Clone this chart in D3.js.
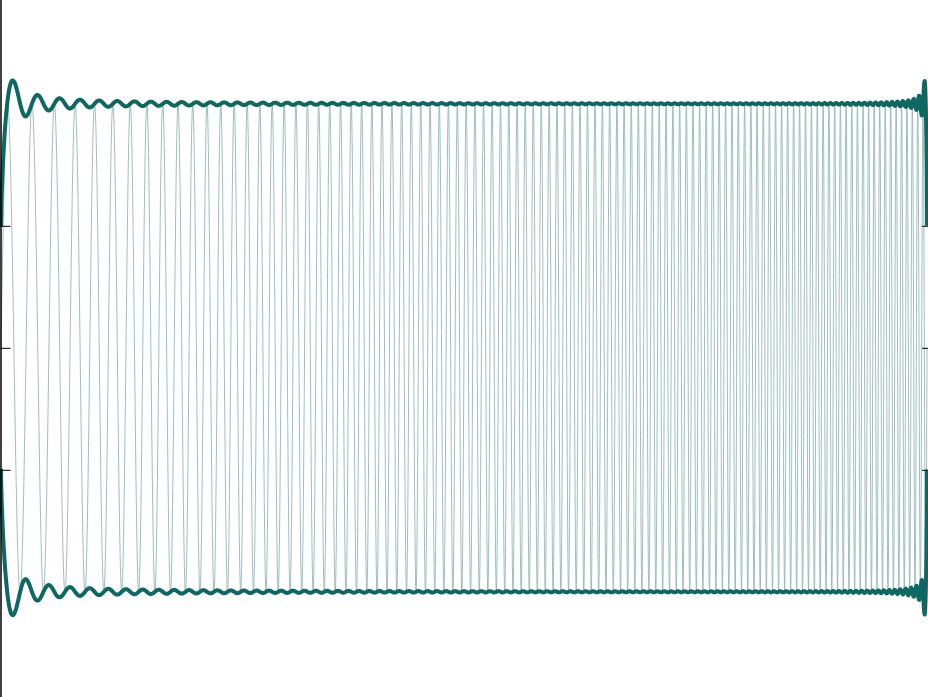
<!DOCTYPE html>
<html>
<head>
<meta charset="utf-8">
<script src="https://cdn.jsdelivr.net/npm/d3@7"></script>
<style>
  html, body { margin: 0; padding: 0; background: #fff; }
  svg { display: block; }
</style>
</head>
<body>
<svg id="chart" width="928" height="697"></svg>
<script>
// ---- data ----
const timeDomain = [0, 1];          // signal time span
const chirpFreqs = [35, 175];       // start / end frequency (cycles per span)
const sampleCounts = [4096];        // number of samples in the signal
const yTicks = [-0.5, 0, 0.5];      // axis tick values
const yDomain = [-1.5, 1.5];

// ---- sampled chirp (sine start) ----
const N = sampleCounts[0];
const t = d3.range(N).map(i => timeDomain[0] + (timeDomain[1] - timeDomain[0]) * i / (N - 1));
const f0 = chirpFreqs[0], f1 = chirpFreqs[1];
const sig = t.map(tt => Math.sin(2 * Math.PI * (f0 * tt + (f1 - f0) * tt * tt / 2)));

// radix-2 FFT (in place)
function fft(re, im, inverse) {
  const n = re.length;
  for (let i = 1, j = 0; i < n; i++) {
    let bit = n >> 1;
    for (; j & bit; bit >>= 1) j ^= bit;
    j ^= bit;
    if (i < j) { [re[i], re[j]] = [re[j], re[i]]; [im[i], im[j]] = [im[j], im[i]]; }
  }
  for (let len = 2; len <= n; len <<= 1) {
    const ang = 2 * Math.PI / len * (inverse ? 1 : -1);
    const wr = Math.cos(ang), wi = Math.sin(ang);
    const half = len / 2;
    for (let i = 0; i < n; i += len) {
      let cr = 1, ci = 0;
      for (let k = 0; k < half; k++) {
        const ar = re[i + k], ai = im[i + k];
        const br = re[i + k + half] * cr - im[i + k + half] * ci;
        const bi = re[i + k + half] * ci + im[i + k + half] * cr;
        re[i + k] = ar + br; im[i + k] = ai + bi;
        re[i + k + half] = ar - br; im[i + k + half] = ai - bi;
        const ncr = cr * wr - ci * wi; ci = cr * wi + ci * wr; cr = ncr;
      }
    }
  }
  if (inverse) for (let i = 0; i < n; i++) { re[i] /= n; im[i] /= n; }
}

// amplitude envelope from the analytic signal (zero-padded Hilbert transform)
function envelope(x) {
  const n = x.length * 2;
  const re = new Float64Array(n), im = new Float64Array(n);
  x.forEach((v, i) => { re[i] = v; });
  fft(re, im, false);
  for (let k = 1; k < n / 2; k++) { re[k] *= 2; im[k] *= 2; }
  for (let k = n / 2 + 1; k < n; k++) { re[k] = 0; im[k] = 0; }
  fft(re, im, true);
  return x.map((_, i) => Math.hypot(re[i], im[i]));
}
const env = envelope(sig);

// ---- draw ----
const W = 928, H = 697;
const svg = d3.select("#chart");
const x = d3.scaleLinear().domain(timeDomain).range([1, 927]);
const y = d3.scaleLinear().domain(yDomain).range([347.8 + 1.5 * 244, 347.8 - 1.5 * 244]);

const line = d3.line().x((d, i) => x(t[i])).y(d => y(d));

svg.append("path")
  .datum(sig)
  .attr("d", line)
  .attr("fill", "none")
  .attr("stroke", "#93b8b4")
  .attr("stroke-width", 0.9);

svg.append("path")
  .datum(env)
  .attr("d", line)
  .attr("fill", "none")
  .attr("stroke", "#0d6862")
  .attr("stroke-width", 4)
  .attr("stroke-linejoin", "round");

svg.append("path")
  .datum(env.map(v => -v))
  .attr("d", line)
  .attr("fill", "none")
  .attr("stroke", "#0d6862")
  .attr("stroke-width", 4)
  .attr("stroke-linejoin", "round");

// left axis (ticks pointing inward)
const leftAxis = svg.append("g")
  .attr("transform", "translate(0.5,0)")
  .call(d3.axisRight(y).tickValues(yTicks).tickSize(10).tickSizeOuter(0).tickFormat(""));
leftAxis.select(".domain").attr("stroke", "#000").attr("stroke-width", 1.5);

// right axis ticks (pointing inward)
const rightAxis = svg.append("g")
  .attr("transform", `translate(${W},0)`)
  .call(d3.axisLeft(y).tickValues(yTicks).tickSize(6).tickSizeOuter(0).tickFormat(""));
rightAxis.select(".domain").remove();
</script>
</body>
</html>
